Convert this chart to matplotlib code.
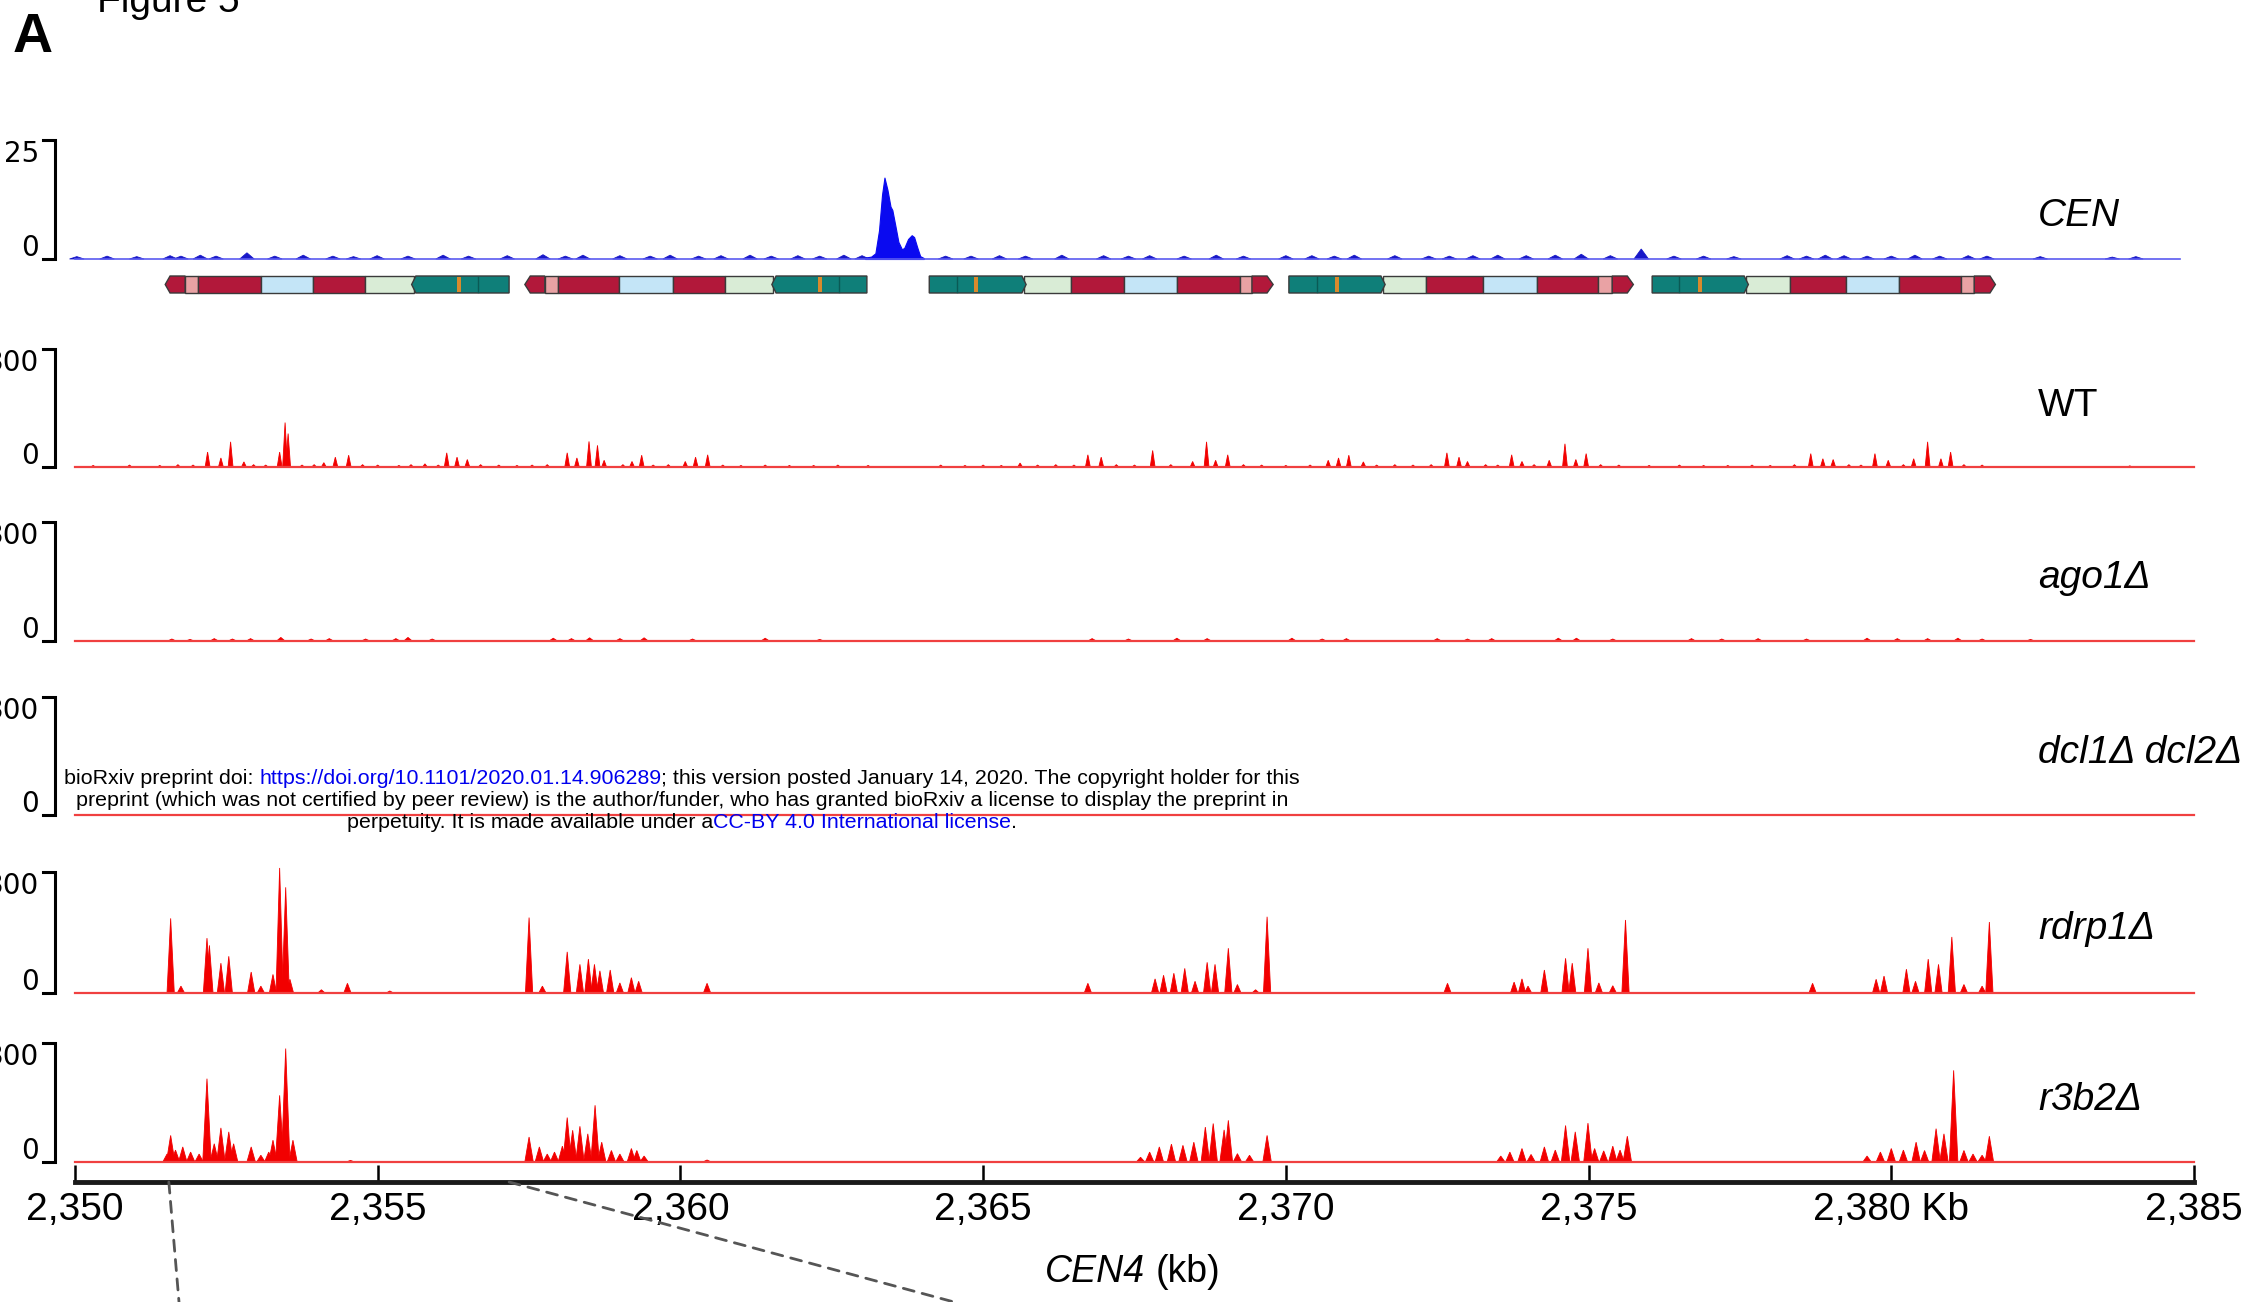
import matplotlib
matplotlib.use('Agg')
import matplotlib.pyplot as plt
from matplotlib.patches import Polygon, Rectangle, ConnectionPatch

# ---- data ----
# CEN ChIP track (scale 0-25)
cen_core_x = [2363.05, 2363.15, 2363.22, 2363.28, 2363.33, 2363.37, 2363.42, 2363.47, 2363.50, 2363.55,
              2363.60, 2363.66, 2363.70, 2363.76, 2363.82, 2363.86, 2363.91, 2363.96, 2364.02]
cen_core_y = [0.3, 0.5, 1.2, 6.0, 13.5, 17.1, 14.5, 11.0, 10.3, 7.0,
              3.6, 2.0, 2.4, 4.2, 5.0, 4.6, 2.5, 0.6, 0.2]
cen_pos = [2350.03, 2350.53, 2351.02, 2351.57, 2351.75, 2352.07, 2352.33, 2352.84, 2353.3, 2353.77,
           2354.26, 2354.6, 2354.99, 2355.5, 2356.08, 2356.5, 2357.14, 2357.73, 2358.1, 2358.39,
           2359.0, 2359.5, 2359.83, 2360.3, 2360.67, 2361.15, 2361.5, 2361.94, 2362.3, 2362.7,
           2363.0, 2364.38, 2364.8, 2365.27, 2365.7, 2366.3, 2366.99, 2367.4, 2367.75, 2368.32,
           2368.85, 2369.3, 2370.0, 2370.43, 2370.8, 2371.13, 2371.8, 2372.36, 2372.7, 2373.09,
           2373.5, 2373.97, 2374.45, 2374.88, 2375.36, 2375.87, 2376.41, 2376.9, 2377.4, 2378.28,
           2378.6, 2378.91, 2379.22, 2379.6, 2380.0, 2380.39, 2380.8, 2381.27, 2381.58, 2382.46,
           2383.65, 2384.04]
cen_h = [0.5, 0.6, 0.5, 0.7, 0.6, 0.8, 0.6, 1.3, 0.6, 0.8,
         0.6, 0.5, 0.7, 0.6, 0.8, 0.6, 0.7, 0.9, 0.6, 0.8,
         0.7, 0.6, 0.8, 0.6, 0.7, 0.8, 0.6, 0.7, 0.6, 0.8,
         0.7, 0.6, 0.6, 0.7, 0.6, 0.8, 0.7, 0.6, 0.7, 0.6,
         0.8, 0.6, 0.7, 0.7, 0.6, 0.8, 0.7, 0.6, 0.6, 0.7,
         0.8, 0.7, 0.8, 1.0, 0.7, 2.1, 0.6, 0.6, 0.5, 0.7,
         0.6, 0.8, 0.7, 0.6, 0.6, 0.8, 0.6, 0.7, 0.6, 0.5,
         0.4, 0.5]

# sRNA tracks (scale 0-300): peak position (kb), height
wt_pos = [2350.3, 2350.9, 2351.4, 2351.7, 2351.95, 2352.19, 2352.41, 2352.57, 2352.79, 2352.95,
          2353.15, 2353.38, 2353.47, 2353.52, 2353.75, 2353.95, 2354.11, 2354.30, 2354.52, 2354.75,
          2355.0, 2355.35, 2355.55, 2355.78, 2356.0, 2356.14, 2356.31, 2356.48, 2356.7, 2357.0,
          2357.3, 2357.55, 2357.8, 2358.13, 2358.29, 2358.49, 2358.63, 2358.74, 2359.05, 2359.20,
          2359.36, 2359.55, 2359.8, 2360.08, 2360.25, 2360.45, 2360.7, 2361.0, 2361.4, 2361.8,
          2362.2, 2362.6, 2363.1, 2364.3, 2364.7, 2365.0, 2365.3, 2365.61, 2365.9, 2366.2,
          2366.5, 2366.73, 2366.95, 2367.2, 2367.5, 2367.80, 2368.1, 2368.46, 2368.69, 2368.84,
          2369.04, 2369.3, 2369.6, 2370.0, 2370.4, 2370.70, 2370.87, 2371.04, 2371.28, 2371.5,
          2371.8, 2372.1, 2372.4, 2372.66, 2372.86, 2373.00, 2373.3, 2373.5, 2373.73, 2373.90,
          2374.1, 2374.35, 2374.61, 2374.79, 2374.96, 2375.2, 2375.5, 2376.0, 2376.5, 2376.9,
          2377.3, 2377.7, 2378.0, 2378.4, 2378.67, 2378.87, 2379.04, 2379.3, 2379.5, 2379.73,
          2379.95, 2380.2, 2380.37, 2380.60, 2380.82, 2380.98, 2381.2, 2381.5, 2383.94]
wt_h = [4, 5, 4, 6, 5, 38, 23, 64, 13, 6,
        5, 38, 113, 85, 5, 6, 11, 25, 30, 6,
        5, 4, 6, 8, 5, 36, 25, 19, 6, 5,
        4, 5, 6, 36, 23, 65, 55, 17, 6, 14,
        30, 5, 6, 14, 25, 31, 5, 4, 5, 4,
        4, 5, 4, 5, 4, 5, 4, 10, 5, 6,
        5, 31, 25, 6, 5, 42, 6, 14, 64, 17,
        31, 6, 5, 4, 5, 17, 23, 30, 13, 5,
        6, 5, 6, 36, 25, 14, 6, 5, 31, 14,
        6, 17, 59, 19, 34, 6, 5, 4, 5, 4,
        4, 5, 4, 6, 34, 21, 19, 6, 5, 34,
        17, 6, 21, 64, 21, 38, 6, 5, 3]

ago_pos = [2351.6, 2351.9, 2352.3, 2352.6, 2352.9, 2353.4, 2353.9, 2354.2, 2354.8, 2355.3,
           2355.5, 2355.9, 2357.9, 2358.2, 2358.5, 2359.0, 2359.4, 2360.2, 2361.4, 2362.3,
           2366.8, 2367.4, 2368.2, 2368.7, 2370.1, 2370.6, 2371.0, 2372.5, 2373.0, 2373.4,
           2374.5, 2374.8, 2375.4, 2376.7, 2377.2, 2377.8, 2378.6, 2379.6, 2380.1, 2380.6,
           2381.1, 2381.5, 2382.3]
ago_h = [5, 4, 6, 5, 6, 9, 5, 6, 5, 6,
         9, 5, 7, 6, 8, 6, 8, 5, 7, 4,
         6, 5, 7, 6, 7, 5, 6, 6, 5, 6,
         7, 7, 5, 6, 5, 6, 5, 7, 6, 6,
         7, 5, 4]

dcl_pos = []
dcl_h = []

rdrp_pos = [2351.58, 2351.75, 2352.18, 2352.22, 2352.41, 2352.54, 2352.91, 2353.07, 2353.27, 2353.38,
            2353.48, 2353.55, 2354.07, 2354.50, 2355.2,
            2357.50, 2357.72, 2358.13, 2358.34, 2358.48, 2358.58, 2358.67, 2358.84, 2359.00, 2359.19,
            2359.31, 2360.44,
            2366.73, 2367.84, 2367.98, 2368.15, 2368.33, 2368.50, 2368.70, 2368.83, 2369.05, 2369.20,
            2369.50, 2369.69,
            2372.67, 2373.77, 2373.90, 2374.00, 2374.27, 2374.62, 2374.73, 2374.99, 2375.17, 2375.40,
            2375.61,
            2378.70, 2379.75, 2379.88, 2380.25, 2380.40, 2380.61, 2380.78, 2381.00, 2381.20, 2381.50,
            2381.62]
rdrp_h = [185, 17, 136, 118, 74, 91, 52, 17, 46, 310,
          262, 34, 8, 24, 5,
          187, 17, 102, 71, 84, 71, 55, 57, 25, 38,
          29, 24,
          24, 35, 44, 49, 61, 29, 76, 71, 111, 21,
          8, 189,
          24, 27, 35, 17, 57, 86, 74, 111, 25, 18,
          181,
          24, 34, 42, 59, 29, 84, 71, 139, 21, 17,
          176]

r3b2_pos = [2351.52, 2351.58, 2351.66, 2351.78, 2351.91, 2352.05, 2352.18, 2352.30, 2352.41, 2352.54,
            2352.62, 2352.91, 2353.07, 2353.20, 2353.27, 2353.38, 2353.48, 2353.60, 2354.55,
            2357.50, 2357.67, 2357.80, 2357.92, 2358.05, 2358.13, 2358.22, 2358.34, 2358.47, 2358.59,
            2358.70, 2358.86, 2359.00, 2359.19, 2359.28, 2359.40, 2360.44,
            2367.60, 2367.75, 2367.91, 2368.11, 2368.30, 2368.48, 2368.67, 2368.80, 2368.98, 2369.05,
            2369.20, 2369.40, 2369.69,
            2373.55, 2373.70, 2373.90, 2374.05, 2374.27, 2374.45, 2374.62, 2374.78, 2374.99, 2375.10,
            2375.25, 2375.40, 2375.52, 2375.64,
            2379.60, 2379.82, 2380.00, 2380.20, 2380.41, 2380.55, 2380.74, 2380.87, 2381.03, 2381.20,
            2381.35, 2381.50, 2381.62]
r3b2_h = [20, 67, 30, 38, 25, 20, 210, 46, 86, 76,
          46, 38, 17, 25, 55, 168, 286, 55, 4,
          63, 38, 20, 25, 40, 112, 80, 90, 71, 143,
          50, 29, 20, 34, 29, 15, 5,
          12, 25, 38, 45, 42, 50, 88, 97, 81, 105,
          21, 17, 67,
          15, 25, 34, 19, 38, 30, 92, 76, 98, 34,
          28, 40, 30, 65,
          15, 25, 34, 30, 50, 29, 84, 71, 231, 29,
          20, 17, 65]

# repeat annotation: (start kb, end kb, element kind)
gene_units = [
    [(2351.57, 2351.82, 'R'), (2351.82, 2352.03, 'P'), (2352.03, 2353.07, 'R'), (2353.07, 2353.93, 'B'),
     (2353.93, 2354.79, 'R'), (2354.79, 2355.60, 'G'), (2355.63, 2357.17, 'T')],
    [(2357.52, 2357.76, 'R'), (2357.76, 2357.98, 'P'), (2357.98, 2358.99, 'R'), (2358.99, 2359.88, 'B'),
     (2359.88, 2360.74, 'R'), (2360.74, 2361.53, 'G'), (2361.58, 2363.08, 'T')],
    [(2364.11, 2365.64, 'T'), (2365.68, 2366.45, 'G'), (2366.45, 2367.33, 'R'), (2367.33, 2368.20, 'B'),
     (2368.20, 2369.24, 'R'), (2369.24, 2369.44, 'P'), (2369.44, 2369.69, 'R')],
    [(2370.05, 2371.57, 'T'), (2371.61, 2372.32, 'G'), (2372.32, 2373.26, 'R'), (2373.26, 2374.15, 'B'),
     (2374.15, 2375.16, 'R'), (2375.16, 2375.39, 'P'), (2375.39, 2375.64, 'R')],
    [(2376.05, 2377.57, 'T'), (2377.60, 2378.33, 'G'), (2378.33, 2379.25, 'R'), (2379.25, 2380.13, 'B'),
     (2380.13, 2381.15, 'R'), (2381.15, 2381.37, 'P'), (2381.37, 2381.63, 'R')],
]
unit_dir = ['<', '<', '>', '>', '>']
unit_tip = [2351.49, 2357.43, 2369.79, 2375.74, 2381.72]
orange_pos = [2356.34, 2362.31, 2364.88, 2370.85, 2376.84]
divider_pos = [2356.66, 2362.62, 2364.57, 2370.52, 2376.49]

x_ticks = [2350, 2355, 2360, 2365, 2370, 2375, 2380, 2385]
x_labels = ['2,350', '2,355', '2,360', '2,365', '2,370', '2,375', '2,380 Kb', '2,385']

# ---- figure ----
W, H = 2249, 1302
fig = plt.figure(figsize=(W / 100, H / 100), dpi=100)
SANS = 'Liberation Sans'
RED = '#f20000'
BLUE = '#0a0af0'
kind_color = {'R': '#b2183a', 'P': '#e9a2a4', 'B': '#c4e5f7', 'G': '#d9ecd6', 'T': '#0f7f79'}
X0, X1 = 75, 2194


def px_box(left, top, right, bottom):
    return [left / W, 1 - bottom / H, (right - left) / W, (bottom - top) / H]


def track_axes(top, bottom, ymax, ylabel):
    ax = fig.add_axes(px_box(X0, top, X1, bottom))
    ax.set_xlim(2350, 2385)
    ax.set_ylim(0, ymax)
    ax.axis('off')
    xl = (55 - X0) / (X1 - X0)
    xt = (43 - X0) / (X1 - X0)
    ax.plot([xt, xl, xl, xt], [1, 1, 0, 0], transform=ax.transAxes, color='k', lw=2.2,
            clip_on=False, solid_joinstyle='miter')
    xlab = (39 - X0) / (X1 - X0)
    ax.text(xlab, 1, ylabel, transform=ax.transAxes, ha='right', va='top', fontsize=20,
            family='DejaVu Sans')
    ax.text(xlab, 3 / (bottom - top), '0', transform=ax.transAxes, ha='right', va='baseline',
            fontsize=20, family='DejaVu Sans')
    return ax


def draw_peaks(ax, pos, hts, hw, color):
    for p, h in zip(pos, hts, strict=True):
        ax.fill([p - hw, p, p + hw], [0, h, 0], color=color, lw=0.6, clip_on=False)


# CEN track
ax_cen = track_axes(140, 259, 25, '25')
ax_cen.plot([2350, 2384.77], [0, 0], color='#5a5af0', lw=1.2, clip_on=False)
draw_peaks(ax_cen, cen_pos, cen_h, 0.12, '#1818c8')
ax_cen.fill_between(cen_core_x, 0, cen_core_y, color=BLUE, lw=0.8, clip_on=False)
fig.text(2038 / W, 1 - 216 / H, 'CEN', fontsize=28, family=SANS, style='italic', va='center')

# repeat annotation bar
axg = fig.add_axes(px_box(X0, 276, X1, 293))
axg.set_xlim(2350, 2385)
axg.set_ylim(0, 1)
axg.axis('off')
EDGE = '#3a3a3a'
for segs, d, tip in zip(gene_units, unit_dir, unit_tip):
    for i, (s, e, k) in enumerate(segs):
        if d == '<' and i == 0:
            pts = [(tip, 0.5), (s, 1), (e, 1), (e, 0), (s, 0)]
        elif d == '>' and i == len(segs) - 1:
            pts = [(s, 0), (s, 1), (e, 1), (tip, 0.5), (e, 0)]
        elif k == 'T':
            if d == '>':
                pts = [(s, 0), (s, 1), (e, 1), (e + 0.07, 0.5), (e, 0)]
            else:
                pts = [(s - 0.07, 0.5), (s, 1), (e, 1), (e, 0), (s, 0)]
        else:
            pts = [(s, 0), (s, 1), (e, 1), (e, 0)]
        zo = 3 if k == 'T' else 2
        axg.add_patch(Polygon(pts, closed=True, facecolor=kind_color[k], edgecolor=EDGE,
                              lw=1.0, zorder=zo, clip_on=False))
for p in orange_pos:
    axg.add_patch(Rectangle((p - 0.035, 0.04), 0.07, 0.92, facecolor='#d98a2c', lw=0,
                            zorder=4, clip_on=False))
for p in divider_pos:
    axg.plot([p, p], [0.04, 0.96], color='#0a5a55', lw=1.0, zorder=4, clip_on=False)

# sRNA tracks
tracks = [
    ('WT', 349, 467, 406, 'normal', wt_pos, wt_h, 0.04),
    ('ago1Δ', 522, 641, 578, 'italic', ago_pos, ago_h, 0.07),
    ('dcl1Δ dcl2Δ', 697, 815, 753, 'italic', dcl_pos, dcl_h, 0.06),
    ('rdrp1Δ', 872, 993, 929, 'italic', rdrp_pos, rdrp_h, 0.06),
    ('r3b2Δ', 1043, 1162, 1100, 'italic', r3b2_pos, r3b2_h, 0.07),
]
for name, top, bottom, ylab, st, pos, hts, hw in tracks:
    ax = track_axes(top, bottom, 300, '300')
    ax.plot([2350, 2385], [0, 0], color='#f04040', lw=1.6, clip_on=False)
    draw_peaks(ax, pos, hts, hw, RED)
    fig.text(2038 / W, 1 - ylab / H, name, fontsize=28, family=SANS, style=st, va='center')

# genomic axis
axx = fig.add_axes(px_box(X0, 1150, X1, 1182))
axx.set_xlim(2350, 2385)
axx.set_ylim(0, 1)
axx.patch.set_visible(False)
for sp in ['top', 'left', 'right']:
    axx.spines[sp].set_visible(False)
axx.spines['bottom'].set_linewidth(3.5)
axx.spines['bottom'].set_color('#1a1a1a')
axx.set_yticks([])
axx.set_xticks(x_ticks)
axx.set_xticklabels(x_labels, family=SANS)
axx.tick_params(axis='x', direction='in', length=12, width=1.8, pad=7, labelsize=28)

renderer = fig.canvas.get_renderer()


def text_row(parts, cx, cy, size, styles=None):
    items = []
    for j, (s, c) in enumerate(parts):
        st = styles[j] if styles else 'normal'
        items.append(fig.text(0, 1 - cy / H, s.strip(), color=c, fontsize=size, family=SANS,
                              style=st, va='center', ha='left', zorder=10))
    probe_a = fig.text(0, 0, 'x x', fontsize=size, family=SANS)
    probe_b = fig.text(0, 0, 'xx', fontsize=size, family=SANS)
    sp = probe_a.get_window_extent(renderer).width - probe_b.get_window_extent(renderer).width
    probe_a.remove()
    probe_b.remove()
    widths = []
    for (s, c), t in zip(parts, items):
        w = t.get_window_extent(renderer).width
        if s.endswith(' '):
            w += sp
        widths.append(w)
    x = cx - sum(widths) / 2
    for t, w in zip(items, widths):
        t.set_x(x / W)
        x += w


text_row([('CEN4 ', 'k'), ('(kb)', 'k')], 1133, 1272, 27, styles=['italic', 'normal'])

# zoom callout lines
for kb, xb in [(2351.55, 179), (2357.17, 954)]:
    con = ConnectionPatch(xyA=(kb, 0), coordsA=axx.transData,
                          xyB=(xb / W, 0), coordsB=fig.transFigure,
                          color='#555555', lw=2, linestyle=(0, (4, 3)))
    fig.add_artist(con)

# panel titles
fig.text(97 / W, 1 - 12 / H, 'Figure 5', fontsize=28, family=SANS, va='baseline')
fig.text(13 / W, 1 - 52 / H, 'A', fontsize=40, family=SANS, weight='bold', va='baseline')

# bioRxiv notice
BL = '#0000ee'
line1 = [('bioRxiv preprint doi: ', 'k'), ('https://doi.org/10.1101/2020.01.14.906289', BL),
         ('; this version posted January 14, 2020. The copyright holder for this', 'k')]
line2 = [('preprint (which was not certified by peer review) is the author/funder, who has granted '
          'bioRxiv a license to display the preprint in', 'k')]
line3 = [('perpetuity. It is made available under a', 'k'), ('CC-BY 4.0 International license', BL),
         ('.', 'k')]
probe = fig.text(0, 0, ''.join(s for s, c in line1), fontsize=10, family=SANS)
note_size = 10 * 1236 / probe.get_window_extent(renderer).width
probe.remove()
text_row(line1, 682, 778, note_size)
text_row(line2, 682, 800, note_size)
text_row(line3, 682, 822, note_size)

fig.savefig('out.png', dpi=100)
